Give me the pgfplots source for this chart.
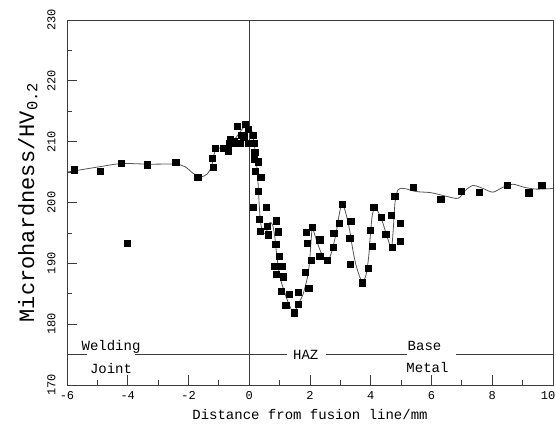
\documentclass[border=0pt]{standalone}
\usepackage{fontspec}
\setmainfont{Liberation Mono}
\usepackage{pgfplots}
\pgfplotsset{compat=1.18}
\definecolor{curvegray}{RGB}{85,85,85}
\definecolor{axisgray}{RGB}{60,60,60}
\begin{document}
\begin{tikzpicture}
\begin{axis}[
  scale only axis, width=486pt, height=365pt,
  xmin=-6, xmax=10, ymin=170, ymax=230,
  xtick={-6,-4,...,8}, ytick={170,180,...,230},
  extra x ticks={10},
  extra x tick style={xticklabel style={xshift=-5pt}},
  minor xtick={-5,-3,...,9}, minor ytick={175,185,...,225},
  tick pos=left, tick align=inside,
  major tick length=10pt, minor tick length=5pt,
  axis line style={axisgray, line width=0.8pt},
  every tick/.style={axisgray, line width=0.8pt},
  /pgf/number format/assume math mode=true,
  ticklabel style={font=\fontsize{12}{12}\selectfont},
  yticklabel style={rotate=90, anchor=south, yshift=8pt},
  xticklabel style={yshift=-3pt},
  xlabel={Distance from fusion line/mm},
  xlabel style={font=\fontsize{14}{14}\selectfont, yshift=-3pt},
  ylabel={Microhardness/HV\textsubscript{0.2}},
  ylabel style={font=\fontsize{22}{22}\selectfont, yshift=3pt},
  clip=false,
]
% fusion line and zone boundary line
\addplot[axisgray, line width=0.8pt] coordinates {(0,170) (0,230)};
\addplot[axisgray, line width=0.8pt] coordinates {(-6,175) (-5.33,175)};
\addplot[axisgray, line width=0.8pt] coordinates {(-3.76,175) (1.24,175)};
\addplot[axisgray, line width=0.8pt] coordinates {(2.52,175) (5.18,175)};
\addplot[axisgray, line width=0.8pt] coordinates {(6.79,175) (10,175)};

% fitted curve
\addplot[curvegray, line width=0.8pt, smooth, tension=0.5] coordinates {
(-6,205.0) (-4.9,205.9) (-4.2,206.4) (-3.3,206.3) (-2.45,206.3) (-2.12,205.9)
(-1.85,204.8) (-1.6,204.2) (-1.38,204.7) (-1.24,206.0) (-1.13,208.4) (-1.0,208.9)
(-0.75,209.3) (-0.5,210.3) (-0.3,211.6) (-0.14,212.6) (0.0,212.6) (0.08,211.9)
(0.16,209.7) (0.24,206.4) (0.29,203.2) (0.33,199.5) (0.37,196.8) (0.44,195.3)
(0.52,194.9) (0.6,195.6) (0.68,196.7) (0.77,196.3) (0.84,194.4) (0.9,191.6)
(1.0,188.0) (1.17,185.1) (1.34,182.9) (1.47,181.9) (1.61,183.3) (1.77,184.9)
(1.92,187.8) (1.99,190.5) (2.04,194.0) (2.08,195.8) (2.2,194.0) (2.38,191.6)
(2.58,190.4) (2.72,192.0) (2.86,195.0) (2.96,198.0) (3.05,199.7) (3.16,198.6)
(3.3,195.6) (3.4,192.5) (3.5,190.0) (3.62,188.0) (3.73,186.9) (3.85,188.2)
(3.93,191.0) (3.99,194.8) (4.05,197.9) (4.13,199.1) (4.25,198.4) (4.4,196.6)
(4.55,194.2) (4.68,192.6) (4.74,195.5) (4.8,200.0) (4.9,202.1) (5.1,202.3)
(5.5,201.8) (6.0,201.6) (6.5,201.0) (6.88,200.7) (7.12,202.0) (7.37,202.8)
(7.7,202.3) (8.02,201.7) (8.35,202.5) (8.68,203.0) (9.05,202.5) (9.45,202.2) (10,202.3)
};

% measured points
\addplot[only marks, mark=square*, mark size=3.1pt, black] coordinates {
(-5.77,205.4) (-4.91,205.2) (-4.22,206.5) (-3.35,206.2) (-2.42,206.6) (-1.70,204.1)
(-4.03,193.3)
(-1.19,205.8) (-1.22,207.3) (-1.13,208.9) (-0.86,208.9) (-0.69,208.5) (-0.66,209.7)
(-0.62,210.4) (-0.50,210.1) (-0.53,209.7) (-0.31,209.7) (-0.39,212.6) (-0.25,211.1)
(-0.18,210.8) (-0.14,212.9) (-0.04,212.0) (-0.04,209.7) (0.13,211.1) (0.16,209.7)
(0.18,208.3) (0.15,207.1) (0.29,206.7) (0.19,205.2) (0.38,204.1) (0.29,201.9)
(0.13,199.2) (0.55,199.2) (0.33,197.3) (0.35,195.3) (0.59,196.1) (0.62,194.7)
(0.90,197.0) (0.95,195.2) (0.87,193.2) (0.98,191.2) (0.84,189.5) (1.08,189.5)
(0.90,188.2) (1.12,187.8) (1.04,185.4) (1.31,184.9) (1.20,183.1) (1.47,181.9)
(1.61,185.3) (1.61,183.3) (1.96,185.9) (1.83,188.6) (2.05,190.5) (1.88,195.1)
(2.08,195.9) (1.92,193.3) (2.32,191.2) (2.56,190.5) (2.32,193.9) (2.76,192.6)
(2.78,195.0) (2.96,196.6) (3.06,199.7) (3.34,196.9) (3.31,194.1) (3.33,189.8)
(3.73,186.8) (3.91,189.2) (3.99,195.4) (4.04,192.8) (4.10,199.2) (4.35,197.6)
(4.49,194.8) (4.68,197.9) (4.71,192.6) (4.98,196.6) (4.98,193.7) (4.79,201.1)
(5.39,202.5) (6.30,200.5) (6.98,201.9) (7.56,201.7) (8.48,202.8) (9.20,201.6)
(9.63,202.8)
};

% zone labels
\node[font=\fontsize{14}{14}\selectfont, anchor=base] at (axis cs:-4.55,175.6) {Welding};
\node[font=\fontsize{14}{14}\selectfont, anchor=base] at (axis cs:-4.55,171.9) {Joint};
\node[font=\fontsize{14}{14}\selectfont, anchor=base] at (axis cs:1.86,174.25) {HAZ};
\node[font=\fontsize{14}{14}\selectfont, anchor=base west, inner sep=0pt] at (axis cs:5.21,175.6) {Base};
\node[font=\fontsize{14}{14}\selectfont, anchor=base west, inner sep=0pt] at (axis cs:5.17,172.0) {Metal};
\end{axis}
\path (current axis.south west) ++(-67pt,-41pt) coordinate (bl);
\path (current axis.north east) ++(3pt,20pt) coordinate (tr);
\pgfresetboundingbox
\path (bl) rectangle (tr);
\end{tikzpicture}
\end{document}
